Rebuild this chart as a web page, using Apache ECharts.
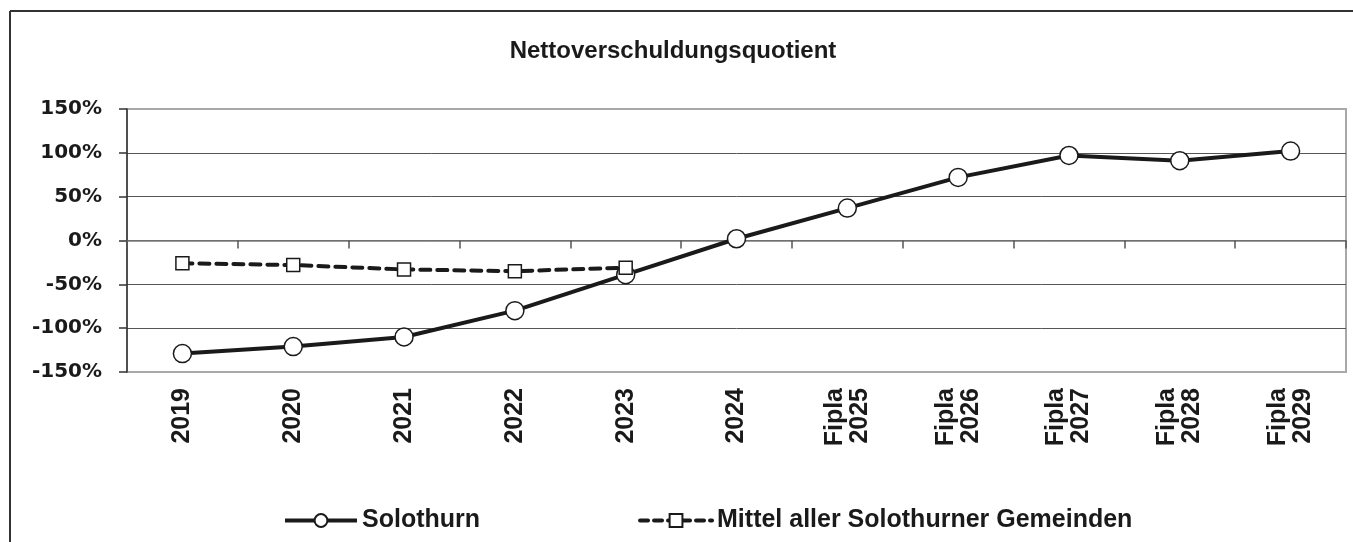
<!DOCTYPE html>
<html>
<head>
<meta charset="utf-8">
<script src="https://cdn.jsdelivr.net/npm/echarts@6/dist/echarts.min.js"></script>
<style>
  html, body { margin: 0; padding: 0; background: #fff; }
  #chart { width: 1353px; height: 542px; }
</style>
</head>
<body>
<div id="chart"></div>
<script>
// data
var years = ['2019', '2020', '2021', '2022', '2023', '2024',
    'Fipla\n2025', 'Fipla\n2026', 'Fipla\n2027', 'Fipla\n2028', 'Fipla\n2029'];
var solothurn = [-129, -121, -110, -80, -39, 2, 37, 72, 97, 91, 102];
var mittel = [-26, -28, -33, -35, -31, null, null, null, null, null, null];
var yTicks = [-150, -100, -50, 0, 50, 100, 150];

var chart = echarts.init(document.getElementById('chart'));

var option = {
    backgroundColor: '#fff',
    animation: false,
    title: {
        text: 'Nettoverschuldungsquotient',
        left: 668,
        top: 34,
        textAlign: 'center',
        textStyle: {
            fontFamily: 'Liberation Sans',
            fontWeight: 'bold',
            fontSize: 24,
            color: '#1a1a1a'
        }
    },
    legend: {
        left: 278,
        top: 503,
        itemWidth: 72,
        itemHeight: 16,
        itemGap: 158,
        data: [{
            name: 'Solothurn',
            lineStyle: { width: 4, color: '#1a1a1a' }
        }, {
            name: 'Mittel aller Solothurner Gemeinden',
            lineStyle: { width: 4, color: '#1a1a1a', type: [8, 6] }
        }],
        textStyle: {
            fontFamily: 'Liberation Sans',
            fontWeight: 'bold',
            fontSize: 25,
            color: '#1a1a1a'
        }
    },
    // outer frame of the original picture (only top and left visible)
    graphic: [
        { type: 'line', shape: { x1: 10, y1: 11, x2: 1353, y2: 11 }, style: { stroke: '#333', lineWidth: 2 } },
        { type: 'line', shape: { x1: 10, y1: 11, x2: 10, y2: 542 }, style: { stroke: '#333', lineWidth: 2 } }
    ],
    grid: {
        left: 127,
        right: 7,
        top: 109,
        bottom: 170,
        show: true,
        borderColor: '#a8a8a8',
        borderWidth: 2,
        containLabel: false
    },
    xAxis: [{
        // labels at the bottom
        type: 'category',
        position: 'bottom',
        data: years,
        boundaryGap: true,
        axisLine: { show: false, onZero: false },
        axisTick: { show: false },
        axisLabel: {
            rotate: 90,
            margin: 16,
            interval: 0,
            fontFamily: 'Liberation Sans',
            fontWeight: 'bold',
            fontSize: 25,
            lineHeight: 25,
            color: '#1a1a1a'
        }
    }, {
        // axis line + ticks on the 0% line
        type: 'category',
        position: 'bottom',
        data: years,
        boundaryGap: true,
        axisLine: { show: true, onZero: true, lineStyle: { color: '#7a7a7a', width: 1.5 } },
        axisTick: { show: true, length: 8, lineStyle: { color: '#555', width: 1.5 } },
        axisLabel: { show: false }
    }],
    yAxis: {
        type: 'value',
        min: yTicks[0],
        max: yTicks[yTicks.length - 1],
        interval: 50,
        axisLine: { show: true, lineStyle: { color: '#333', width: 1.5 } },
        axisTick: { show: true, length: 8, lineStyle: { color: '#333', width: 1.5 } },
        splitLine: {
            show: true,
            showMinLine: false,
            showMaxLine: false,
            lineStyle: { color: '#555', width: 1 }
        },
        axisLabel: {
            margin: 25,
            formatter: '{value}%',
            fontFamily: 'DejaVu Sans',
            fontWeight: 'bold',
            fontSize: 20,
            color: '#1a1a1a'
        }
    },
    series: [{
        name: 'Solothurn',
        type: 'line',
        data: solothurn,
        symbol: 'circle',
        symbolSize: 18,
        lineStyle: { color: '#1a1a1a', width: 4 },
        itemStyle: { color: '#fff', borderColor: '#1a1a1a', borderWidth: 1.5 },
        z: 3
    }, {
        name: 'Mittel aller Solothurner Gemeinden',
        type: 'line',
        data: mittel,
        symbol: 'rect',
        symbolSize: 13,
        lineStyle: { color: '#1a1a1a', width: 4, type: [10, 7], cap: 'round' },
        itemStyle: { color: '#fff', borderColor: '#1a1a1a', borderWidth: 1.5 },
        z: 4
    }]
};

chart.setOption(option);
</script>
</body>
</html>
